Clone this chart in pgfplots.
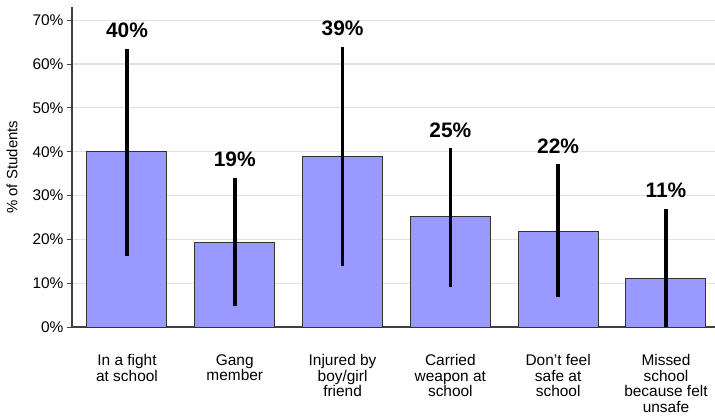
\documentclass[border=0pt]{standalone}
\usepackage{pgfplots}
\pgfplotsset{compat=1.18}
\usepackage{fontspec}
\setmainfont{Liberation Sans}
\definecolor{barfill}{HTML}{9999FF}
\definecolor{bardraw}{HTML}{333333}
\definecolor{axisgray}{HTML}{404040}
\definecolor{gridgray}{HTML}{E2E2E2}
\begin{document}
\begin{tikzpicture}
\path[use as bounding box] (-72bp,-89bp) rectangle (643bp,327bp);
\begin{axis}[
  at={(0,0)}, anchor=south west,
  scale only axis, width=643bp, height=319.5bp,
  xmin=-0.51, xmax=5.455, ymin=0, ymax=72.9,
  axis lines*=left,
  axis line style={-, color=axisgray, line width=1.5bp},
  ytick={0,10,20,30,40,50,60,70},
  yticklabel={\pgfmathprintnumber{\tick}\%},
  /pgf/number format/assume math mode=true,
  yticklabel style={font=\fontsize{15.5}{18}\selectfont, text=black},
  tick align=outside, major tick length=5bp,
  ytick style={color=axisgray, line width=1bp},
  ymajorgrids, grid style={color=gridgray, line width=1.2bp},
  xtick={0,1,2,3,4,5},
  xtick style={draw=none},
  xticklabels={{In a fight\\at school},{Gang\\member},{Injured by\\boy/girl\\friend},{Carried\\weapon at\\school},{Don't feel\\safe at\\school},{Missed\\school\\because felt\\unsafe}},
  xticklabel style={align=center, font=\fontsize{15.5}{15.5}\selectfont, yshift=-19bp},
  ylabel={\% of Students},
  ylabel style={font=\fontsize{15}{17}\selectfont, at={(axis description cs:-0.0933,0.5)}, anchor=center},
  clip=false,
]
\addplot[ybar, bar width=80bp, fill=barfill, draw=bardraw, line width=1bp,
  error bars/.cd, y dir=both, y explicit,
  error bar style={line width=3.5bp, black}, error mark=none]
  table[x=x, y=y, y error plus=ep, y error minus=em] {
x y ep em
0 40.0 23.5 23.7
1 19.2 14.9 14.5
2 38.9 25.0 24.9
3 25.1 15.7 16.0
4 21.9 15.2 15.1
5 11.1 15.9 11.1
};
\addplot[draw=none, mark=none, nodes near coords={\pgfmathprintnumber{\pgfplotspointmeta}\%},
  point meta=explicit,
  nodes near coords style={anchor=base, yshift=11bp, font=\fontsize{21}{24}\selectfont\bfseries, text=black}]
  table[x=x, y=hi, meta=lab] {
x hi lab
0 63.5 40
1 34.1 19
2 63.9 39
3 40.8 25
4 37.1 22
5 27.0 11
};
\end{axis}
\end{tikzpicture}
\end{document}
